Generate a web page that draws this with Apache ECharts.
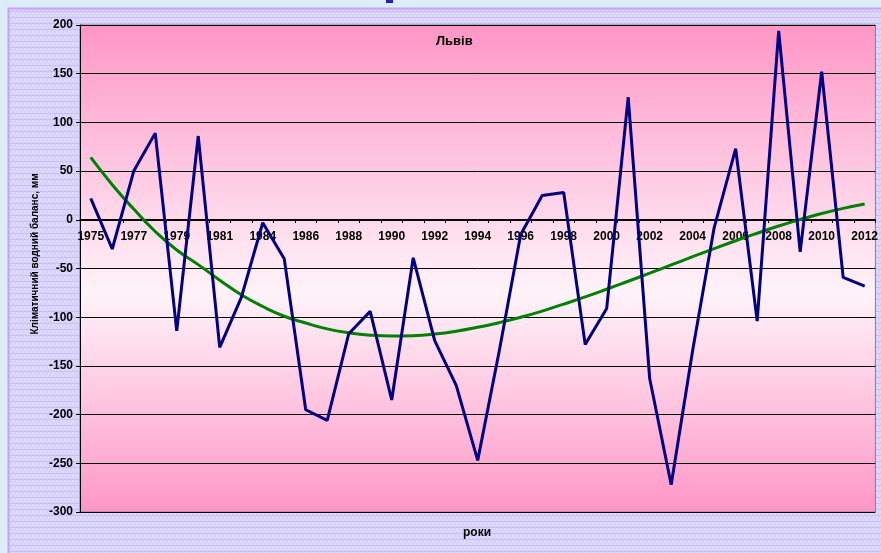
<!DOCTYPE html>
<html>
<head>
<meta charset="utf-8">
<script src="https://cdn.jsdelivr.net/npm/echarts@6/dist/echarts.min.js"></script>
<style>
html,body{margin:0;padding:0;background:#dcedf9;}
#chart{width:881px;height:553px;}
</style>
</head>
<body>
<div id="chart"></div>
<script>
const years = ['1975','1976','1977','1978','1979','1980','1981','1982','1984','1985','1986','1987','1988','1989','1990','1991','1992','1993','1994','1995','1996','1997','1998','1999','2000','2001','2002','2003','2004','2005','2006','2007','2008','2009','2010','2011','2012'];
const balance = [22,-30,50,89,-114,86,-131,-80,-3,-40,-195,-206,-117,-94,-185,-39,-124,-170,-247,-135,-15,25,28,-128,-91,126,-163,-272,-134,-8,73,-104,194,-33,152,-59,-68];
const trend = [64,36,11,-12,-31,-46,-62,-77,-89,-99,-106,-112,-116,-118.5,-119.4,-119,-117.3,-114.4,-110.4,-105.6,-100,-93.7,-86.6,-79.2,-71.3,-63.1,-54.8,-46.3,-37.9,-29.6,-21.5,-13.8,-6.4,0.3,6.4,11.7,16.2];
const yTicks = {min:-300, max:200, step:50};
const titleText = 'Львів';
const yName = 'Кліматичний водний баланс, мм';
const xName = 'роки';

const pc = document.createElement('canvas');
pc.width = 4; pc.height = 6;
const pctx = pc.getContext('2d');
pctx.fillStyle = '#d5d1fb'; pctx.fillRect(0,0,4,6);
pctx.fillStyle = '#dddafc'; pctx.fillRect(0,0,2,3); pctx.fillRect(2,3,2,3);
pctx.fillStyle = '#ccbdf6'; pctx.fillRect(0,5,4,1);

const chart = echarts.init(document.getElementById('chart'));
const F = 'Liberation Sans, Arial, sans-serif';
chart.setOption({
  animation:false,
  backgroundColor:'#dcedf9',
  graphic:[
    {type:'rect', z:-10, shape:{x:8.5,y:8.5,width:880,height:550}, style:{fill:{image:pc, repeat:'repeat'}, stroke:'#c7a4f2', lineWidth:2}},
    {type:'rect', z:-10, shape:{x:386,y:0,width:7,height:3}, style:{fill:'#2020c0'}},
    {type:'text', x:35, y:254, rotation:Math.PI/2, style:{text:yName, font:'bold 10px '+F, fill:'#000', align:'center', verticalAlign:'middle'}},
    {type:'text', x:477, y:533, style:{text:xName, font:'bold 12px '+F, fill:'#000', align:'center', verticalAlign:'middle'}}
  ],
  title:{text:titleText, left:431, top:30, textStyle:{fontFamily:F, fontWeight:'bold', fontSize:13, color:'#000'}},
  grid:{left:80, right:5, top:25, bottom:41, show:true, borderColor:'#808080', borderWidth:1,
    backgroundColor:new echarts.graphic.LinearGradient(0,0,0,1,[{offset:0,color:'#ff96c6'},{offset:0.55,color:'#fff3f9'},{offset:1,color:'#ff96c6'}])},
  xAxis:{type:'category', data:years, boundaryGap:true, offset:-293,
    axisLine:{onZero:false, lineStyle:{color:'#000', width:1}},
    axisTick:{show:true, interval:0, length:4, lineStyle:{color:'#000'}},
    axisLabel:{interval:1, margin:12, fontFamily:F, fontWeight:'bold', fontSize:12, color:'#000'},
    splitLine:{show:false}},
  yAxis:{type:'value', min:yTicks.min, max:yTicks.max, interval:yTicks.step,
    axisLine:{show:true, lineStyle:{color:'#000'}},
    axisTick:{show:true, length:4, lineStyle:{color:'#000'}},
    axisLabel:{margin:7, fontFamily:F, fontWeight:'bold', fontSize:12, color:'#000'},
    splitLine:{show:true, lineStyle:{color:'#000', width:1}}},
  series:[
    {type:'line', data:balance, showSymbol:false, lineStyle:{color:'#000080', width:3}, z:3},
    {type:'line', data:trend, showSymbol:false, smooth:true, lineStyle:{color:'#008000', width:3}, z:2}
  ]
});
</script>
</body>
</html>
